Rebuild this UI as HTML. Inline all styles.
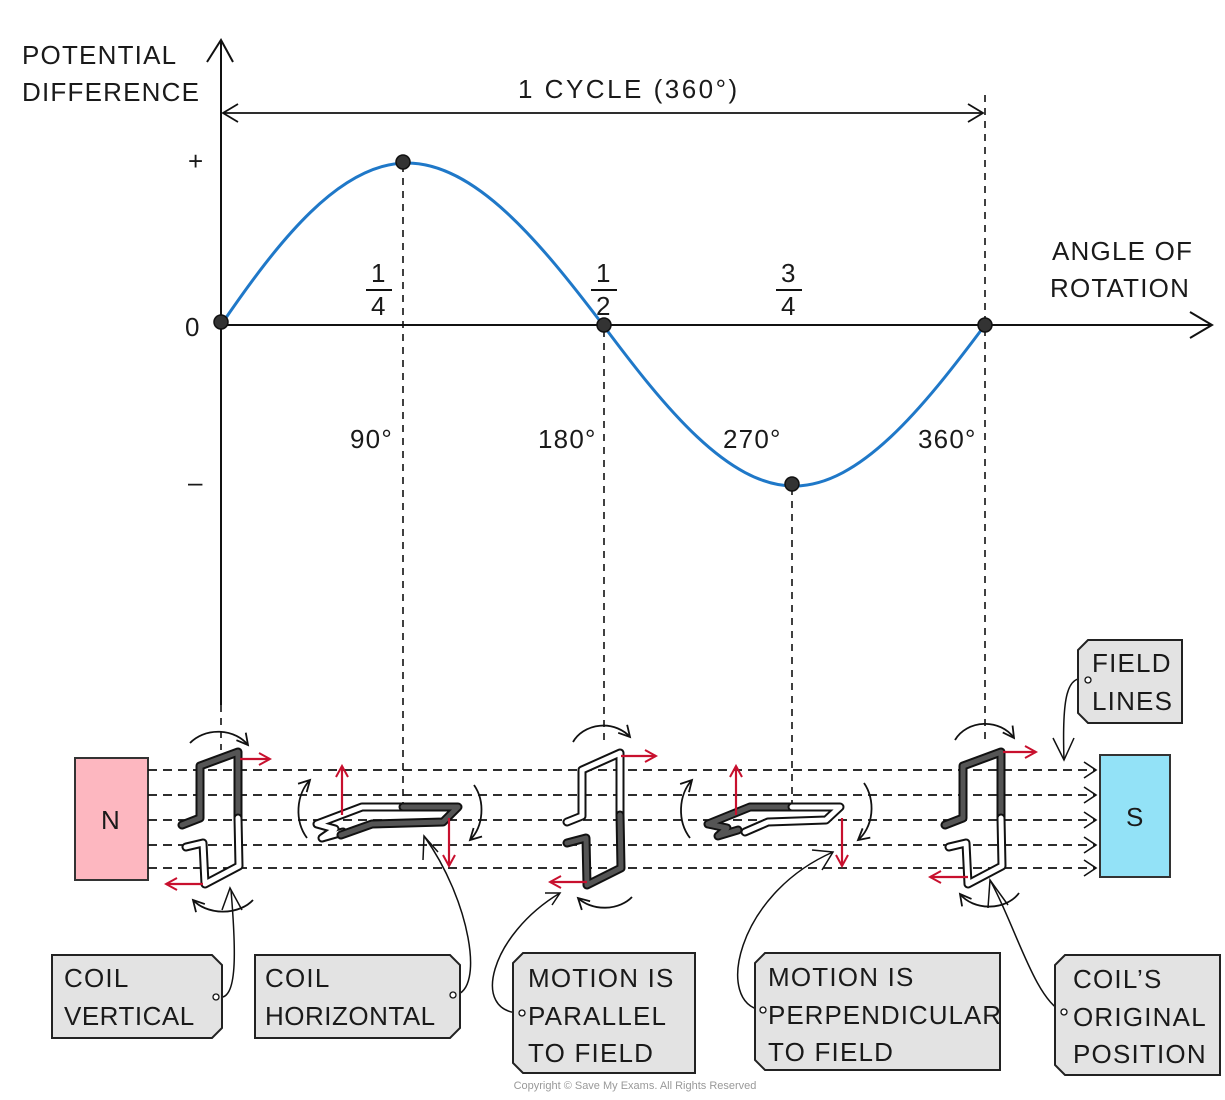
<!DOCTYPE html>
<html><head><meta charset="utf-8"><style>
html,body{margin:0;padding:0;background:#fff;}
svg{display:block;}
text{font-family:"Liberation Sans",sans-serif;fill:#1a1a1a;letter-spacing:1.2px;}
</style></head><body>
<svg width="1225" height="1100" viewBox="0 0 1225 1100" xmlns="http://www.w3.org/2000/svg">
<defs>
<marker id="ah" markerWidth="14" markerHeight="14" refX="12" refY="7" orient="auto" markerUnits="userSpaceOnUse"><path d="M1,1 L12,7 L1,13" fill="none" stroke="#111" stroke-width="1.8"/></marker>
<marker id="rh" markerWidth="14" markerHeight="14" refX="12" refY="7" orient="auto" markerUnits="userSpaceOnUse"><path d="M1,1 L12,7 L1,13" fill="none" stroke="#c8102e" stroke-width="2"/></marker>
</defs>

<line x1="221" y1="42" x2="221" y2="705" stroke="#111" stroke-width="2"/>
<path d="M207,62 L221,40 L233,62" fill="none" stroke="#111" stroke-width="2"/>
<line x1="221" y1="325" x2="1210" y2="325" stroke="#111" stroke-width="2"/>
<path d="M1190,312 L1212,325 L1190,338" fill="none" stroke="#111" stroke-width="2"/>

<line x1="223" y1="113" x2="983" y2="113" stroke="#111" stroke-width="1.8"/>
<path d="M238,104 L223,113 L238,122" fill="none" stroke="#111" stroke-width="1.8"/>
<path d="M968,104 L983,113 L968,122" fill="none" stroke="#111" stroke-width="1.8"/>

<g stroke="#111" stroke-width="1.6" stroke-dasharray="7,6" fill="none">
<line x1="403" y1="165" x2="403" y2="808"/>
<line x1="604" y1="330" x2="604" y2="740"/>
<line x1="792" y1="488" x2="792" y2="808"/>
<line x1="985" y1="95" x2="985" y2="745"/>
<line x1="221" y1="705" x2="221" y2="750"/>
</g>

<path fill="none" stroke="#1f78c8" stroke-width="3" d="M221,325 C279,240 340,163 407,163 C475,163 540,242 603,325 C665,408 728,486 794,486 C860,486 923,408 985,325"/>
<g fill="#333" stroke="#111" stroke-width="1.5">
<circle cx="221" cy="322" r="7"/><circle cx="403" cy="162" r="7"/><circle cx="604" cy="325" r="7"/><circle cx="792" cy="484" r="7"/><circle cx="985" cy="325" r="7"/>
</g>

<g font-size="26">
<text x="22" y="64">POTENTIAL</text>
<text x="22" y="101">DIFFERENCE</text>
<text x="518" y="98" style="letter-spacing:2.5px">1 CYCLE (360°)</text>
<text x="188" y="170">+</text>
<text x="185" y="336">0</text>
<text x="188" y="491">–</text>
<text x="1052" y="260">ANGLE OF</text>
<text x="1050" y="297">ROTATION</text>
<text x="371" y="282">1</text><text x="371" y="315">4</text>
<text x="596" y="282">1</text><text x="596" y="315">2</text>
<text x="781" y="282">3</text><text x="781" y="315">4</text>
<text x="350" y="448">90°</text>
<text x="538" y="448">180°</text>
<text x="723" y="448">270°</text>
<text x="918" y="448">360°</text>
</g>
<g stroke="#111" stroke-width="2"><line x1="366" y1="290" x2="392" y2="290"/><line x1="591" y1="290" x2="617" y2="290"/><line x1="776" y1="290" x2="802" y2="290"/></g>

<rect x="75" y="758" width="73" height="122" fill="#fdb7c0" stroke="#333" stroke-width="2"/>
<text x="101" y="829" font-size="26">N</text>
<rect x="1100" y="755" width="70" height="122" fill="#93e2f7" stroke="#333" stroke-width="2"/>
<text x="1126" y="826" font-size="26">S</text>

<g stroke="#111" stroke-width="1.8" stroke-dasharray="9,6">
<line x1="148" y1="770" x2="1095" y2="770"/>
<line x1="148" y1="795" x2="1095" y2="795"/>
<line x1="148" y1="820" x2="1095" y2="820"/>
<line x1="148" y1="845" x2="1095" y2="845"/>
<line x1="148" y1="868" x2="1095" y2="868"/>
</g>
<g fill="none" stroke="#111" stroke-width="1.6">
<path d="M1084,762 L1096,770 L1084,778"/><path d="M1084,787 L1096,795 L1084,803"/><path d="M1084,812 L1096,820 L1084,828"/><path d="M1084,837 L1096,845 L1084,853"/><path d="M1084,860 L1096,868 L1084,876"/>
</g>

<g fill="none" stroke-linecap="round" stroke-linejoin="round">
<path d="M182,825 L200,818 L200,766 L238,752 L238,818" stroke="#111" stroke-width="9"/>
<path d="M182,825 L200,818 L200,766 L238,752 L238,818" stroke="#555" stroke-width="5"/>
<path d="M238,818 L239,866 L205,884 L203,843 L186,847" stroke="#111" stroke-width="9"/>
<path d="M238,818 L239,866 L205,884 L203,843 L186,847" stroke="#fff" stroke-width="5"/>
<path d="M945,825 L963,818 L963,766 L1001,752 L1001,818" stroke="#111" stroke-width="9"/>
<path d="M945,825 L963,818 L963,766 L1001,752 L1001,818" stroke="#555" stroke-width="5"/>
<path d="M1001,818 L1002,866 L968,884 L966,843 L949,847" stroke="#111" stroke-width="9"/>
<path d="M1001,818 L1002,866 L968,884 L966,843 L949,847" stroke="#fff" stroke-width="5"/>
<path d="M567,822 L582,816 L582,770 L620,753 L620,815" stroke="#111" stroke-width="9"/>
<path d="M567,822 L582,816 L582,770 L620,753 L620,815" stroke="#fff" stroke-width="5"/>
<path d="M620,815 L621,868 L587,885 L586,838 L567,843" stroke="#111" stroke-width="9"/>
<path d="M620,815 L621,868 L587,885 L586,838 L567,843" stroke="#555" stroke-width="5"/>
<path d="M403,807 L362,807 L317,824 L335,829 L322,838 L343,832" stroke="#111" stroke-width="9"/>
<path d="M403,807 L362,807 L317,824 L335,829 L322,838 L343,832" stroke="#fff" stroke-width="5"/>
<path d="M403,807 L458,807 L443,822 L372,824 L341,835" stroke="#111" stroke-width="9"/>
<path d="M403,807 L458,807 L443,822 L372,824 L341,835" stroke="#555" stroke-width="5"/>
<path d="M792,807 L750,807 L708,824 L727,828 L718,836 L738,830" stroke="#111" stroke-width="9"/>
<path d="M792,807 L750,807 L708,824 L727,828 L718,836 L738,830" stroke="#555" stroke-width="5"/>
<path d="M792,807 L840,807 L826,820 L768,822 L745,832" stroke="#111" stroke-width="9"/>
<path d="M792,807 L840,807 L826,820 L768,822 L745,832" stroke="#fff" stroke-width="5"/>
</g>

<g stroke="#c8102e" stroke-width="2.2" fill="none" marker-end="url(#rh)">
<line x1="240" y1="759" x2="270" y2="759"/>
<line x1="203" y1="884" x2="166" y2="884"/>
<line x1="342" y1="815" x2="342" y2="766"/>
<line x1="449" y1="818" x2="449" y2="866"/>
<line x1="621" y1="756" x2="656" y2="756"/>
<line x1="587" y1="882" x2="550" y2="882"/>
<line x1="736" y1="815" x2="736" y2="766"/>
<line x1="842" y1="818" x2="842" y2="866"/>
<line x1="1003" y1="752" x2="1036" y2="752"/>
<line x1="968" y1="877" x2="930" y2="877"/>
</g>

<g stroke="#111" stroke-width="1.8" fill="none" marker-end="url(#ah)">
<path d="M190,743 A36,30 0 0 1 248,745"/>
<path d="M253,900 A36,26 0 0 1 193,900"/>
<path d="M307,838 A32,40 0 0 1 310,780"/>
<path d="M474,785 A30,38 0 0 1 470,840"/>
<path d="M573,742 A34,30 0 0 1 630,737"/>
<path d="M632,897 A34,26 0 0 1 578,898"/>
<path d="M690,838 A32,40 0 0 1 692,780"/>
<path d="M864,783 A30,38 0 0 1 858,840"/>
<path d="M955,740 A34,30 0 0 1 1014,738"/>
<path d="M1019,893 A34,26 0 0 1 960,894"/>
</g>

<g stroke="#111" stroke-width="1.5" fill="none">
<path d="M218,997 C238,1002 236,950 231,890"/>
<path d="M222,910 L230,888 L242,910"/>
<path d="M455,995 C485,990 470,900 424,836"/>
<path d="M423,860 L424,836 L438,852"/>
<path d="M521,1013 C470,1013 490,935 560,893"/>
<path d="M545,893 L560,893 L552,905"/>
<path d="M762,1010 C715,1005 735,895 833,852"/>
<path d="M812,850 L833,852 L822,870"/>
<path d="M1063,1012 C1035,1000 1015,925 990,880"/>
<path d="M988,908 L990,880 L1008,905"/>
<path d="M1088,680 C1066,672 1062,700 1064,760"/>
<path d="M1053,738 L1064,760 L1074,738"/>
</g>

<g fill="#e3e3e3" stroke="#222" stroke-width="2">
<path d="M52,955 L212,955 L222,965 L222,1028 L212,1038 L52,1038 Z"/>
<path d="M255,955 L450,955 L460,965 L460,1028 L450,1038 L255,1038 Z"/>
<path d="M523,953 L695,953 L695,1073 L523,1073 L513,1063 L513,963 Z"/>
<path d="M765,953 L1000,953 L1000,1070 L765,1070 L755,1060 L755,963 Z"/>
<path d="M1065,955 L1220,955 L1220,1075 L1065,1075 L1055,1065 L1055,965 Z"/>
<path d="M1088,640 L1182,640 L1182,723 L1088,723 L1078,713 L1078,650 Z"/>
</g>
<g fill="#fff" stroke="#111" stroke-width="1.3">
<circle cx="216" cy="997" r="3"/><circle cx="453" cy="995" r="3"/><circle cx="522" cy="1013" r="3"/><circle cx="763" cy="1010" r="3"/><circle cx="1064" cy="1012" r="3"/><circle cx="1088" cy="680" r="3"/>
</g>
<g font-size="26">
<text x="64" y="987">COIL</text><text x="64" y="1025" style="letter-spacing:0.5px">VERTICAL</text>
<text x="265" y="987">COIL</text><text x="265" y="1025" style="letter-spacing:0.5px">HORIZONTAL</text>
<text x="528" y="987">MOTION IS</text><text x="528" y="1025">PARALLEL</text><text x="528" y="1062">TO FIELD</text>
<text x="768" y="986">MOTION IS</text><text x="768" y="1024" style="letter-spacing:1px">PERPENDICULAR</text><text x="768" y="1061">TO FIELD</text>
<text x="1073" y="988">COIL’S</text><text x="1073" y="1026">ORIGINAL</text><text x="1073" y="1063">POSITION</text>
<text x="1092" y="672">FIELD</text><text x="1092" y="710">LINES</text>
</g>
<text x="635" y="1089" font-size="11" text-anchor="middle" style="fill:#999;letter-spacing:0">Copyright © Save My Exams. All Rights Reserved</text>
</svg>
</body></html>
